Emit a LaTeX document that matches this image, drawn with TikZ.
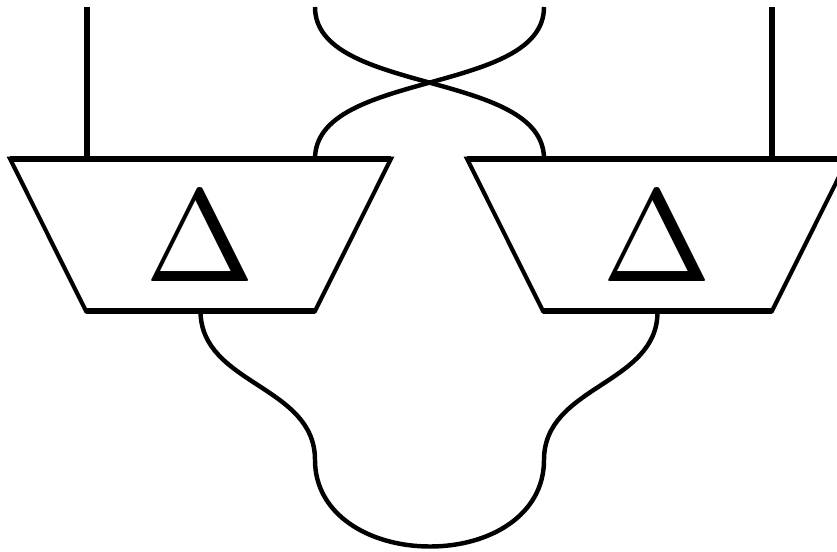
\documentclass[tikz,border=0pt]{standalone}
\usepackage{amsmath, amssymb}
\usepackage{tikz}
\usetikzlibrary{shapes.geometric, positioning, calc}

\newcommand{\ampsign}{\raisebox{0pt}[\dimexpr\height+3.4pt]{\scalebox{11.2}{$\Delta$}}}

\begin{document}
\begin{tikzpicture}[
    x=0.03cm, y=-0.03cm,
    amp/.style={draw, trapezium, shape border rotate=180, trapezium stretches body=true, trapezium left angle=50.9, trapezium right angle=50.9, minimum width=11.43cm, minimum height=4.575cm, inner sep=0pt, outer sep=0pt, line width=3.5pt},
    rail/.style={line width=5.5pt},
    feed/.style={line width=4.6pt},
    wire/.style={line width=3.8pt}
]
\clip (0,0) rectangle (837,551);

% Amplifiers
\node[amp] (ampL) at (200.5,235) {\ampsign};
\node[amp] (ampR) at (657.5,235) {\ampsign};

% Free ends of the wires and ports on the top edges
\coordinate (topA) at (87,7);
\coordinate (topB) at (315,7);
\coordinate (topC) at (544,7);
\coordinate (topD) at (772,7);
\coordinate (portA) at (87,159);
\coordinate (portB) at (315,159);
\coordinate (portC) at (544,159);
\coordinate (portD) at (772,159);
\coordinate (waistL) at (315,460);
\coordinate (waistR) at (544,460);
\coordinate (base) at (430,546.5);

% Thick top and bottom edges
\draw[rail] (ampL.bottom left corner) -- (ampL.bottom right corner);
\draw[rail] (ampL.top left corner) -- (ampL.top right corner);
\draw[rail] (ampR.bottom left corner) -- (ampR.bottom right corner);
\draw[rail] (ampR.top left corner) -- (ampR.top right corner);

% Connections
\draw[feed] (topA) -- (portA);
\draw[feed] (topD) -- (portD);
\draw[wire] (topB) .. controls (315,95) and (544,70) .. (portC);
\draw[wire] (topC) .. controls (544,95) and (315,70) .. (portB);
\draw[wire] (ampL.south) .. controls (201,385) and (315,385) .. (waistL)
    .. controls (315,515) and (370,546.5) .. (base)
    .. controls (490,546.5) and (544,515) .. (waistR)
    .. controls (544,385) and (658,385) .. (ampR.south);

\end{tikzpicture}
\end{document}
